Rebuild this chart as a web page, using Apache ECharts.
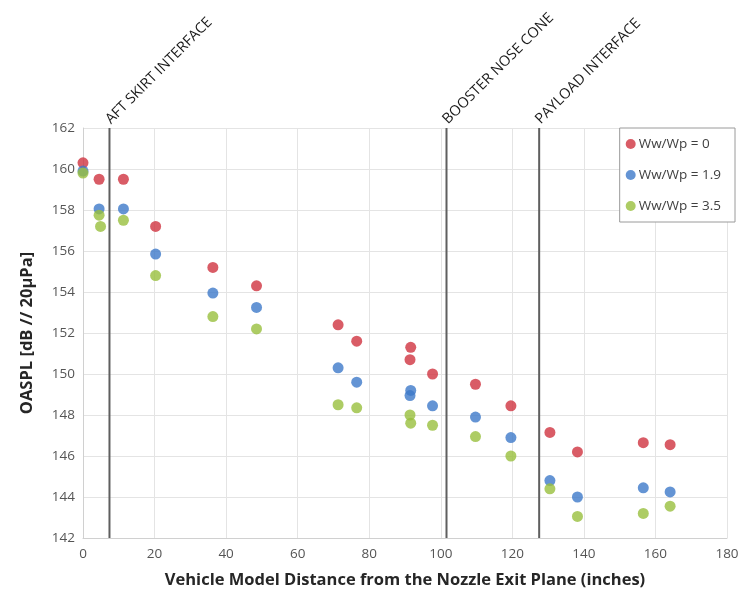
<!DOCTYPE html>
<html><head><meta charset="utf-8">
<script src="https://cdn.jsdelivr.net/npm/echarts@6/dist/echarts.min.js"></script>
<style>html,body{margin:0;padding:0;background:#fff}#c{width:748px;height:598px}</style>
</head><body><div id="c"></div>
<script>
const seriesNames = ['Ww/Wp = 0', 'Ww/Wp = 1.9', 'Ww/Wp = 3.5'];
const red = [[0,160.3],[4.5,159.5],[11.3,159.5],[20.3,157.2],[36.3,155.2],[48.5,154.3],[71.3,152.4],[76.5,151.6],[91.6,151.3],[91.4,150.7],[97.7,150.0],[109.7,149.5],[119.6,148.45],[130.5,147.15],[138.2,146.2],[156.6,146.65],[164.1,146.55]];
const blue = [[0,159.9],[4.5,158.05],[11.3,158.05],[20.3,155.85],[36.3,153.95],[48.5,153.25],[71.3,150.3],[76.5,149.6],[91.6,149.2],[91.4,148.95],[97.7,148.45],[109.7,147.9],[119.6,146.9],[130.5,144.8],[138.2,144.0],[156.6,144.45],[164.1,144.25]];
const green = [[0,159.8],[4.5,157.75],[4.9,157.2],[11.3,157.5],[20.3,154.8],[36.3,152.8],[48.5,152.2],[71.3,148.5],[76.5,148.35],[91.4,148.0],[91.6,147.6],[97.7,147.5],[109.7,146.95],[119.6,146.0],[130.5,144.4],[138.2,143.05],[156.6,143.2],[164.1,143.55]];
const markers = [[7.4,'AFT SKIRT INTERFACE'],[101.6,'BOOSTER NOSE CONE'],[127.5,'PAYLOAD INTERFACE']];
const xTicks = [0,20,40,60,80,100,120,140,160,180];
const yTicks = [142,144,146,148,150,152,154,156,158,160,162];
const colors = ['#cf3340','#3d79c9','#98bf3d'];

const chart = echarts.init(document.getElementById('c'));
const font = '"Open Sans", "Liberation Sans", sans-serif';
chart.setOption({
  animation: false,
  textStyle: {fontFamily: font},
  grid: {left: 83, right: 21, top: 128, bottom: 60},
  legend: {
    orient: 'vertical', right: 13, top: 128,
    backgroundColor: '#fff', borderColor: '#9a9a9a', borderWidth: 1,
    padding: [9, 14, 9, 6], itemGap: 17, itemWidth: 10, itemHeight: 10,
    icon: 'circle',
    textStyle: {fontSize: 13.5, color: '#404040', fontFamily: font, padding: [0,0,0,-2]},
    data: seriesNames
  },
  xAxis: {
    type: 'value', min: xTicks[0], max: xTicks[xTicks.length-1], interval: 20,
    name: 'Vehicle Model Distance from the Nozzle Exit Plane (inches)',
    nameLocation: 'middle', nameGap: 34,
    nameTextStyle: {fontSize: 16.5, fontWeight: 'bold', color: '#262626', fontFamily: font},
    axisLine: {lineStyle: {color: '#d0d0d0'}}, axisTick: {show: false},
    axisLabel: {fontSize: 13.5, color: '#555', margin: 9},
    splitLine: {lineStyle: {color: '#e4e4e4'}}
  },
  yAxis: {
    type: 'value', min: yTicks[0], max: yTicks[yTicks.length-1], interval: 2,
    name: 'OASPL [dB // 20\u00b5Pa]', nameLocation: 'middle', nameGap: 47,
    nameTextStyle: {fontSize: 16.5, fontWeight: 'bold', color: '#262626', fontFamily: font},
    axisLine: {show: true, lineStyle: {color: '#d0d0d0'}}, axisTick: {show: false},
    axisLabel: {fontSize: 13.5, color: '#555', margin: 8},
    splitLine: {lineStyle: {color: '#e4e4e4'}}
  },
  series: [
    {type: 'custom', silent: true, clip: false, z: 1,
     data: markers,
     renderItem: function (params, api) {
       const x = api.value(0);
       const top = api.coord([x, yTicks[yTicks.length-1]]);
       const bot = api.coord([x, yTicks[0]]);
       return {type: 'group', children: [
         {type: 'line', shape: {x1: top[0], y1: top[1], x2: bot[0], y2: bot[1]},
          style: {stroke: '#5f5f5f', lineWidth: 2}},
         {type: 'text', x: top[0] + 4, y: top[1] - 1, rotation: Math.PI / 4,
          style: {text: markers[params.dataIndex][1], fill: '#1a1a1a', fontSize: 14.5,
                  fontFamily: font, align: 'left', verticalAlign: 'bottom'}}
       ]};
     }},
    {name: seriesNames[0], type: 'scatter', data: red, symbolSize: 11, itemStyle: {color: colors[0]}, z: 3},
    {name: seriesNames[1], type: 'scatter', data: blue, symbolSize: 11, itemStyle: {color: colors[1]}, z: 3},
    {name: seriesNames[2], type: 'scatter', data: green, symbolSize: 11, itemStyle: {color: colors[2]}, z: 4}
  ]
});
</script></body></html>
